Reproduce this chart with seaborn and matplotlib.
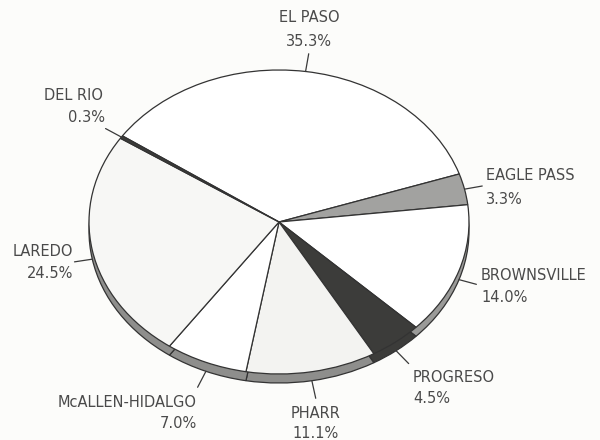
import numpy as np
import seaborn as sns
import matplotlib.pyplot as plt

# share of crossings by port of entry, clockwise from the top
ports = ['EL PASO', 'EAGLE PASS', 'BROWNSVILLE', 'PROGRESO', 'PHARR',
         'McALLEN-HIDALGO', 'LAREDO', 'DEL RIO']
shares = [35.3, 3.3, 14.0, 4.5, 11.1, 7.0, 24.5, 0.3]

top_colors = ['#ffffff', '#a2a2a0', '#ffffff', '#3c3c3a', '#f3f3f1',
              '#ffffff', '#f7f7f5', '#3c3c3a']
rim_colors = ['#8e8e8c', '#8e8e8c', '#9a9a98', '#3c3c3a', '#8e8e8c',
              '#8e8e8c', '#8e8e8c', '#3c3c3a']

# label layout in pixel coords: name position, pct position, alignment
name_pos = [(309, 18), (486, 176), (481, 276), (413, 377), (316, 413),
            (197, 402), (73, 252), (103, 95)]
pct_pos = [(309, 42), (486, 199), (481, 297), (413, 398), (316, 433),
           (197, 423), (73, 273), (105, 117)]
aligns = ['center', 'left', 'left', 'left', 'center', 'right', 'right', 'right']

sns.set_theme(style='white')
plt.rcParams['font.family'] = ['DejaVu Sans']

W, H = 600, 440
YS = 1.25  # vertical squash of the tilted pie
cx, cy_px = 279, 222
R = 190
rim = 9


def to_data(px, py):
    return px, (H - py) * YS


fig = plt.figure(figsize=(6, 4.4), dpi=100)
fig.patch.set_facecolor('#fcfcfa')
ax = fig.add_axes([0, 0, 1, 1])
ax.set_facecolor('#fcfcfa')

cx_d, cy_d = to_data(cx, cy_px)
start = 145.5
wp = dict(edgecolor='#333333', linewidth=0.9)

# side of the disc, then the top face
ax.pie(shares, colors=rim_colors, startangle=start, counterclock=False,
       center=(cx_d, cy_d - rim * YS), radius=R, wedgeprops=wp)
ax.pie(shares, colors=top_colors, startangle=start, counterclock=False,
       center=(cx_d, cy_d), radius=R, wedgeprops=wp)

ax.set_aspect('auto')
ax.set_xlim(0, W)
ax.set_ylim(0, H * YS)
ax.axis('off')

# leader lines from the middle of each slice
edges = start - np.cumsum([0] + shares) * 3.6
mids = (edges[:-1] + edges[1:]) / 2
for m, name, npos, ppos, ha, v in zip(mids, ports, name_pos, pct_pos,
                                      aligns, shares):
    a = np.deg2rad(m)
    sx = cx + R * np.cos(a)
    sy = cy_px - R / YS * np.sin(a)
    if np.sin(a) < 0:
        sy += rim
    d = np.array([np.cos(a), -np.sin(a) / YS])
    d /= np.linalg.norm(d)
    ex, ey = sx + 18 * d[0], sy + 18 * d[1]
    ax.plot(*zip(to_data(sx, sy), to_data(ex, ey)), color='#3a3a3a', lw=0.9)
    ax.text(*to_data(*npos), name, ha=ha, va='center', fontsize=10.5,
            color='#4a4a4a')
    ax.text(*to_data(*ppos), f'{v:.1f}%', ha=ha, va='center', fontsize=10.5,
            color='#4a4a4a')

fig.savefig('out.png', dpi=100, facecolor=fig.get_facecolor())
